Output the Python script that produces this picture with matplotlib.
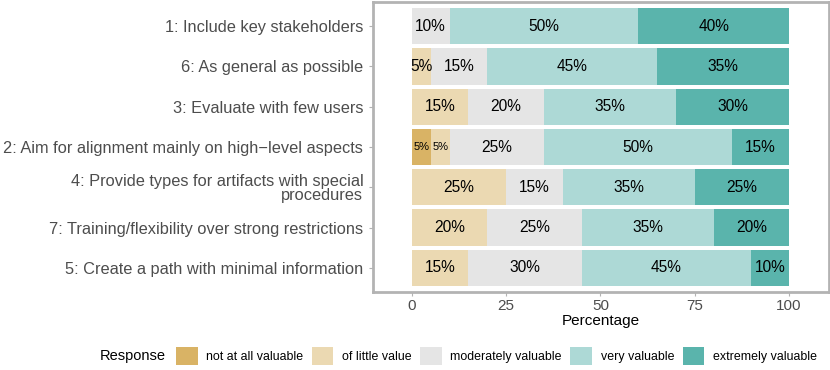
import numpy as np
import matplotlib.pyplot as plt
from matplotlib.patches import Patch

plt.rcParams['font.family'] = ['Liberation Sans', 'DejaVu Sans']

# statements, top to bottom
items = ['1: Include key stakeholders',
         '6: As general as possible',
         '3: Evaluate with few users',
         '2: Aim for alignment mainly on high\u2212level aspects',
         '4: Provide types for artifacts with special\nprocedures',
         '7: Training/flexibility over strong restrictions',
         '5: Create a path with minimal information']

responses = ['not at all valuable', 'of little value', 'moderately valuable',
             'very valuable', 'extremely valuable']

not_at_all = [0, 0, 0, 5, 0, 0, 0]
little = [0, 5, 15, 5, 25, 20, 15]
moderate = [10, 15, 20, 25, 15, 25, 30]
very = [50, 45, 35, 50, 35, 35, 45]
extreme = [40, 35, 30, 15, 25, 20, 10]

colors = ['#D9B365', '#EBD9B2', '#E5E5E5', '#ADD9D6', '#5AB4AC']

series = np.array([not_at_all, little, moderate, very, extreme], dtype=float)

fig = plt.figure(figsize=(8.3, 3.7), dpi=100)
ax = fig.add_axes([373/830, 78/370, 456/830, 290/370])

y = np.arange(len(items))
left = np.zeros(len(items))
for k, vals in enumerate(series):
    ax.barh(y, vals, left=left, height=0.9, color=colors[k], linewidth=0)
    for i, v in enumerate(vals):
        if v <= 0:
            continue
        # tiny neighbouring segments get a smaller label
        prev_v = series[k-1][i] if k > 0 else 0
        next_v = series[k+1][i] if k < len(series)-1 else 0
        small = v <= 5 and (0 < prev_v <= 5 or 0 < next_v <= 5)
        ax.text(left[i] + v/2, y[i], f'{int(v)}%', ha='center', va='center',
                fontsize=8 if small else 11.2, color='black')
    left += vals

ax.set_xlim(-10.3, 110.6)
ax.set_ylim(len(items) - 0.4, -0.6)
ax.set_yticks(y)
ax.set_yticklabels(items, fontsize=11.8, color='#4D4D4D', linespacing=0.95,
                   multialignment='right')
ax.set_xticks([0, 25, 50, 75, 100])
ax.set_xticklabels(['0', '25', '50', '75', '100'], fontsize=11, color='#4D4D4D')
ax.tick_params(axis='both', length=3, width=0.8, color='#B3B3B3')
ax.tick_params(axis='x', pad=2)
ax.tick_params(axis='y', pad=4)
ax.set_xlabel('Percentage', fontsize=11, labelpad=1)
for s in ax.spines.values():
    s.set_color('#B3B3B3')
    s.set_linewidth(2)

handles = [Patch(facecolor=c, edgecolor='none') for c in colors]
fig.legend(handles, responses, ncol=5, loc='center left',
           bbox_to_anchor=(176/830, 14/370), frameon=False, fontsize=8.9,
           handlelength=1.75, handleheight=1.75, handletextpad=0.7,
           columnspacing=0.68, borderpad=0, borderaxespad=0)
fig.text(100/830, 14/370, 'Response', fontsize=10.5, va='center', ha='left')

plt.savefig('out.png', dpi=100)
